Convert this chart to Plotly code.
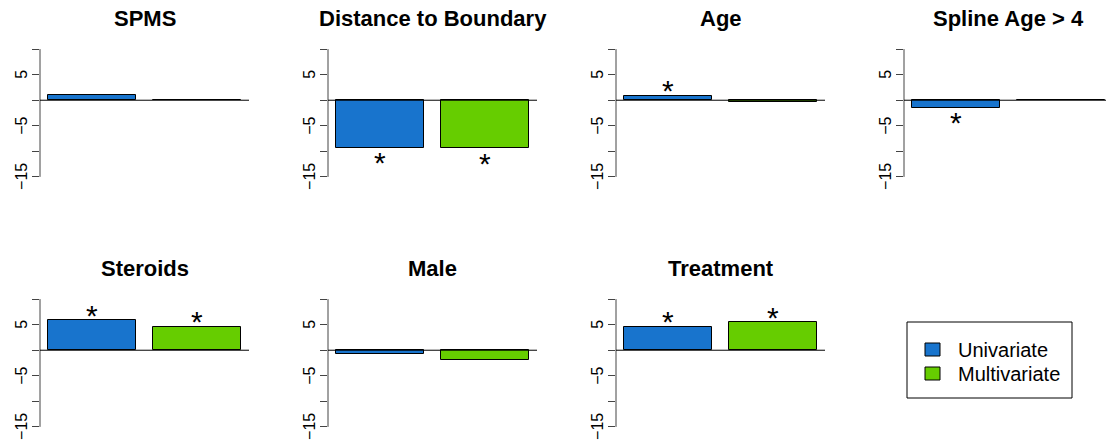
import plotly.graph_objects as go

# ---- data ----
panels = ["SPMS", "Distance to Boundary", "Age", "Spline Age > 4",
          "Steroids", "Male", "Treatment"]
series = ["Univariate", "Multivariate"]
univariate = [1.0, -9.3, 0.9, -1.45, 5.9, -0.8, 4.6]
multivariate = [-0.05, -9.35, -0.4, 0.05, 4.6, -1.9, 5.5]
sig_uni = [False, True, True, True, True, False, True]
sig_multi = [False, True, False, False, True, False, True]
ytick_vals = [10, 5, 0, -5, -10, -15]
ytick_text = ["", "5", "", "\u22125", "", "\u221215"]

colors = ["#1874CD", "#66CD00"]
W, H = 1106, 445
FONT = "Liberation Sans, Arial, Helvetica, sans-serif"

fig = go.Figure()

bar_pos = [0.7, 1.9]
xlo, xhi = 0.2 - 0.088, 2.4 + 0.088
yrange_ = [-16, 11]

for i, name in enumerate(panels):
    r, c = divmod(i, 4)
    x0, x1 = 40 + 288 * c, 249 + 288 * c
    ppu = (x1 - x0) / (xhi - xlo)
    if x1 > W:  # panel clipped at the right page edge
        xr = [xlo, xlo + (W - x0) / ppu]
        x1 = W
    else:
        xr = [xlo, xhi]
    yt, yb = 44 + 250 * r, 182 + 250 * r
    ax = "" if i == 0 else str(i + 1)
    xa, ya = "x" + ax, "y" + ax
    vals = [univariate[i], multivariate[i]]
    sigs = [sig_uni[i], sig_multi[i]]
    fig.add_trace(go.Bar(
        x=bar_pos, y=vals, width=1,
        marker=dict(color=colors, line=dict(color="#000000", width=1)),
        xaxis=xa, yaxis=ya, showlegend=False, hoverinfo="skip"))
    fig.layout["xaxis" + ax] = dict(
        domain=[x0 / W, x1 / W], range=xr, visible=False,
        anchor=ya, fixedrange=True)
    fig.layout["yaxis" + ax] = dict(
        domain=[1 - yb / H, 1 - yt / H], range=yrange_,
        tickvals=ytick_vals, showticklabels=False,
        ticks="outside", ticklen=7, tickwidth=1, tickcolor="#444",
        showline=False, showgrid=False, zeroline=False,
        anchor=xa, fixedrange=True)
    # rotated tick labels (R style, reading upwards)
    for tv, tt in zip(ytick_vals, ytick_text):
        if tt:
            fig.add_annotation(text=tt, xref=xa + " domain", yref=ya,
                               x=0, y=tv, xshift=-18, textangle=-90,
                               showarrow=False, xanchor="center",
                               yanchor="middle",
                               font=dict(family=FONT, size=16, color="#000"))
    # y axis line from -15 to 10
    fig.add_shape(type="line", xref=xa + " domain", yref=ya,
                  x0=0, x1=0, y0=min(ytick_vals), y1=max(ytick_vals),
                  line=dict(color="#444", width=1))
    # zero line
    fig.add_shape(type="line", xref=xa + " domain", yref=ya,
                  x0=0, x1=1, y0=0, y1=0,
                  line=dict(color="#000", width=1))
    # title
    tx = (40 + 288 * c + 249 + 288 * c) / 2
    fig.add_annotation(text="<b>%s</b>" % name.replace(">", "&gt;"),
                       xref="paper", yref="paper",
                       x=tx / W, y=1 - (18.5 + 250 * r) / H,
                       showarrow=False, xanchor="center", yanchor="middle",
                       font=dict(family=FONT, size=22, color="#000"))
    # significance stars
    for bx, v, s in zip(bar_pos, vals, sigs):
        if s:
            fig.add_annotation(text="*", xref=xa, yref=ya, x=bx, y=v,
                               showarrow=False, xanchor="center",
                               yanchor="middle",
                               yshift=5 if v > 0 else -15,
                               font=dict(family=FONT, size=30, color="#000"))

# legend box
lx0, lx1, ly0, ly1 = 907, 1072, 322, 398
fig.add_shape(type="rect", xref="paper", yref="paper",
              x0=lx0 / W, x1=lx1 / W, y0=1 - ly1 / H, y1=1 - ly0 / H,
              line=dict(color="#000", width=1), fillcolor="rgba(0,0,0,0)")
for k, (lab, col) in enumerate(zip(series, colors)):
    cy = 349.5 + 24 * k
    fig.add_shape(type="rect", xref="paper", yref="paper",
                  x0=925 / W, x1=940 / W,
                  y0=1 - (cy + 6.5) / H, y1=1 - (cy - 6.5) / H,
                  line=dict(color="#000", width=1), fillcolor=col)
    fig.add_annotation(text=lab, xref="paper", yref="paper",
                       x=956 / W, y=1 - cy / H, xanchor="left",
                       yanchor="middle", showarrow=False,
                       font=dict(family=FONT, size=20, color="#000"))

fig.update_layout(width=W, height=H, margin=dict(l=0, r=0, t=0, b=0),
                  paper_bgcolor="white", plot_bgcolor="white",
                  bargap=0, showlegend=False)

fig.write_html("out.html", config={"displayModeBar": False},
               post_script="document.body.style.margin='0';"
                           "document.body.style.overflow='hidden';")
